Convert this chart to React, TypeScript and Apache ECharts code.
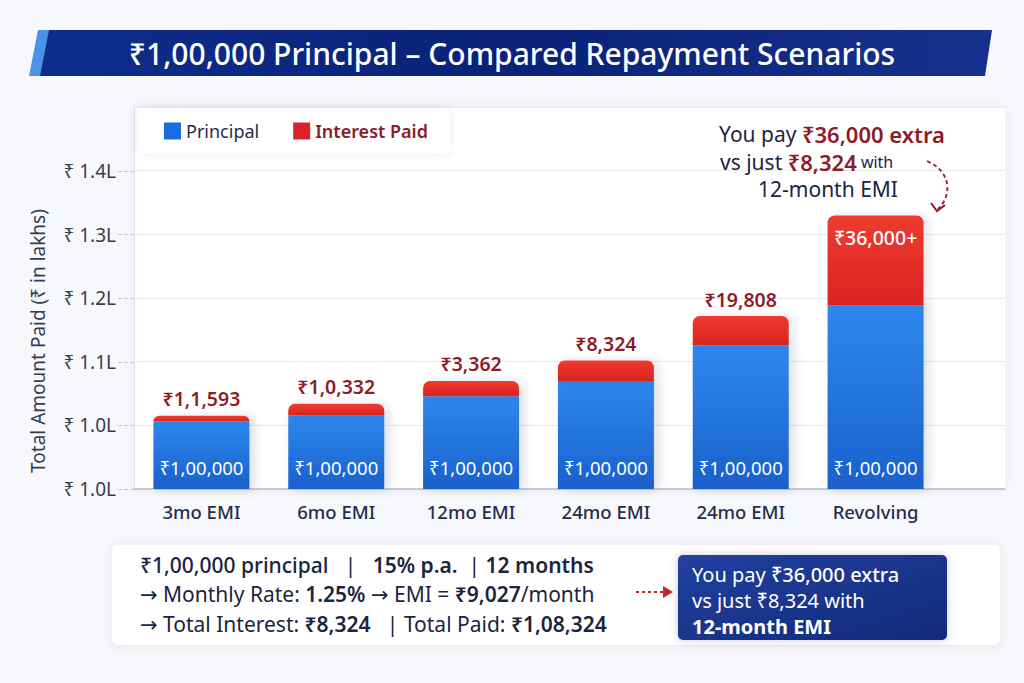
import { useEffect, useRef } from 'react';
import * as echarts from 'echarts';
import type { EChartsOption } from 'echarts';

const FONT = '"Noto Sans", "DejaVu Sans", sans-serif';

// heights drawn on the picture's axis (in ₹ thousands, axis starts at 90)
const categories = ['3mo EMI', '6mo EMI', '12mo EMI', '24mo EMI', '24mo EMI', 'Revolving'];
const principalDrawn = [100.6, 101.6, 104.6, 107.0, 112.6, 118.9];
const interestDrawn = [0.9, 1.8, 2.4, 3.2, 4.6, 14.1];
const principalLabels = ['₹1,00,000', '₹1,00,000', '₹1,00,000', '₹1,00,000', '₹1,00,000', '₹1,00,000'];
const interestLabels = ['₹1,1,593', '₹1,0,332', '₹3,362', '₹8,324', '₹19,808', '₹36,000+'];
const yTickLabels = ['₹ 1.0L', '₹ 1.0L', '₹ 1.1L', '₹ 1.2L', '₹ 1.3L', '₹ 1.4L'];

const NAVY = '#1c2440';
const DARK_RED = '#8e1b27';

function vGrad(top: string, bottom: string) {
  return new echarts.graphic.LinearGradient(0, 0, 0, 1, [
    { offset: 0, color: top },
    { offset: 1, color: bottom },
  ]);
}

function buildOption(): EChartsOption {
  const bodyRich = {
    n: { fontSize: 21, fill: NAVY, fontFamily: FONT },
    m: { fontSize: 21, fill: NAVY, fontFamily: FONT, fontWeight: 500 },
    b: { fontSize: 21, fill: NAVY, fontFamily: FONT, fontWeight: 600 },
  };
  const boxRich = {
    n: { fontSize: 20, lineHeight: 22, fill: '#fff', fontFamily: FONT },
    m: { fontSize: 20, lineHeight: 22, fill: '#fff', fontFamily: FONT, fontWeight: 500 },
    b: { fontSize: 20, lineHeight: 22, fill: '#fff', fontFamily: FONT, fontWeight: 700 },
  };
  const noteRich = {
    n: { fontSize: 21, fill: NAVY, fontFamily: FONT },
    r: { fontSize: 22, fill: DARK_RED, fontFamily: FONT, fontWeight: 600 },
    s: { fontSize: 16, fill: NAVY, fontFamily: FONT },
  };

  return {
    animation: false,
    backgroundColor: '#f7f8fb',
    textStyle: { fontFamily: FONT },
    legend: {
      left: 138,
      top: 108,
      padding: [14, 22, 14, 26],
      itemWidth: 17,
      itemHeight: 17,
      itemGap: 34,
      icon: 'rect',
      backgroundColor: '#fff',
      borderRadius: 6,
      shadowBlur: 10,
      shadowColor: 'rgba(20,30,70,0.08)',
      textStyle: { fontSize: 18, fontFamily: FONT },
      data: [
        { name: 'Principal', itemStyle: { color: '#1a6ddf' }, textStyle: { color: '#262d4a' } },
        { name: 'Interest Paid', itemStyle: { color: '#d8232a' }, textStyle: { color: DARK_RED, fontWeight: 600 } },
      ],
    },
    grid: [
      { left: 134, right: 81, top: 171, bottom: 194 },
      {
        left: 134, right: 19, top: 107, bottom: 194, show: true,
        backgroundColor: '#fff', borderWidth: 0,
        shadowBlur: 14, shadowColor: 'rgba(20,30,70,0.06)',
      },
    ],
    xAxis: [
      {
        type: 'category',
        gridIndex: 0,
        data: categories,
        axisLine: { show: false },
        axisTick: { show: false },
        axisLabel: { color: '#262d4a', fontSize: 18.5, fontWeight: 500, margin: 13, fontFamily: FONT },
      },
      {
        type: 'value',
        gridIndex: 1,
        min: 0,
        max: 1,
        axisLine: { show: true, lineStyle: { color: '#b3bbcc', width: 1.5 } },
        axisTick: { show: false },
        axisLabel: { show: false },
        splitLine: { show: false },
      },
    ],
    yAxis: [
      {
        type: 'value',
        gridIndex: 0,
        min: 90,
        max: 140,
        interval: 10,
        axisLine: { show: false },
        axisTick: { show: true, length: 16, lineStyle: { color: '#c4c9d5', type: 'dashed' } },
        splitLine: { show: false },
        axisLabel: {
          margin: 18,
          color: '#363d52',
          fontSize: 19,
          fontFamily: FONT,
          formatter: (v: number) => yTickLabels[Math.round((v - 90) / 10)] ?? '',
        },
      },
      {
        type: 'value',
        gridIndex: 1,
        min: 90,
        max: 150,
        interval: 10,
        axisLine: { show: true, lineStyle: { color: '#dde1ea' } },
        axisTick: { show: false },
        axisLabel: { show: false },
        splitLine: { show: true, lineStyle: { color: '#e7e9ef' } },
      },
    ],
    series: [
      {
        name: 'Principal',
        type: 'bar',
        stack: 'total',
        barWidth: 96,
        xAxisIndex: 0,
        yAxisIndex: 0,
        itemStyle: {
          color: vGrad('#2d88ee', '#1a60cc'),
          shadowBlur: 10,
          shadowOffsetX: 5,
          shadowColor: 'rgba(20,40,100,0.15)',
        },
        label: {
          show: true,
          position: 'insideBottom',
          distance: 12,
          color: '#fff',
          fontSize: 18.5,
          fontFamily: FONT,
          formatter: (p: any) => principalLabels[p.dataIndex],
        },
        data: principalDrawn,
      },
      {
        name: 'Interest Paid',
        type: 'bar',
        stack: 'total',
        barWidth: 96,
        xAxisIndex: 0,
        yAxisIndex: 0,
        itemStyle: {
          color: vGrad('#ef3b30', '#d9241f'),
          borderRadius: [7, 7, 0, 0],
          shadowBlur: 10,
          shadowOffsetX: 5,
          shadowColor: 'rgba(20,40,100,0.12)',
        },
        label: {
          show: true,
          position: 'top',
          distance: 7,
          color: DARK_RED,
          fontSize: 19.5,
          fontWeight: 600,
          fontFamily: FONT,
          formatter: (p: any) => interestLabels[p.dataIndex],
        },
        data: interestDrawn.map((v, i) =>
          i === interestDrawn.length - 1
            ? { value: v, label: { position: 'insideTop', distance: 12, color: '#fff', fontWeight: 500 } }
            : v,
        ),
      },
    ],
    graphic: [
      // title banner
      {
        type: 'polygon',
        shape: { points: [[48, 30], [992, 30], [985, 76], [39, 76]] },
        style: {
          fill: new echarts.graphic.LinearGradient(0, 0, 1, 0, [
            { offset: 0, color: '#0e2d8c' },
            { offset: 0.5, color: '#0a2278' },
            { offset: 1, color: '#16318e' },
          ]),
        },
        z: 10,
      },
      {
        type: 'polygon',
        shape: { points: [[38, 30], [49, 30], [40, 76], [29, 76]] },
        style: { fill: '#4a93e6' },
        z: 10,
      },
      {
        type: 'text',
        x: 512,
        y: 53,
        z: 11,
        style: {
          text: '₹1,00,000 Principal – Compared Repayment Scenarios',
          fill: '#fff',
          font: `500 30px ${FONT}`,
          align: 'center',
          verticalAlign: 'middle',
        },
      },
      // y axis name
      {
        type: 'text',
        x: 38,
        y: 341,
        rotation: Math.PI / 2,
        z: 10,
        style: {
          text: 'Total Amount Paid (₹ in lakhs)',
          fill: '#363d52',
          font: `19px ${FONT}`,
          align: 'center',
          verticalAlign: 'middle',
        },
      },
      // top right note
      {
        type: 'text',
        x: 832,
        y: 134,
        z: 10,
        style: {
          text: '{n|You pay }{r|₹36,000 extra}',
          rich: noteRich,
          align: 'center',
          verticalAlign: 'middle',
        },
      },
      {
        type: 'text',
        x: 720,
        y: 162,
        z: 10,
        style: {
          text: '{n|vs just }{r|₹8,324}{s| with}',
          rich: noteRich,
          align: 'left',
          verticalAlign: 'middle',
        },
      },
      {
        type: 'text',
        x: 828,
        y: 189,
        z: 10,
        style: {
          text: '{n|12-month EMI}',
          rich: noteRich,
          align: 'center',
          verticalAlign: 'middle',
        },
      },
      {
        type: 'bezierCurve',
        z: 10,
        shape: { x1: 927, y1: 161, cpx1: 952, cpy1: 172, cpx2: 952, cpy2: 196, x2: 938, y2: 209 },
        style: { stroke: DARK_RED, lineWidth: 1.8, lineDash: [4, 3], fill: 'none' },
      },
      {
        type: 'polyline',
        z: 10,
        shape: { points: [[931, 203], [937, 211], [945, 205]] },
        style: { stroke: DARK_RED, lineWidth: 2, fill: 'none' },
      },
      // bottom summary box
      {
        type: 'rect',
        z: 5,
        shape: { x: 112, y: 545, width: 888, height: 100, r: 6 },
        style: { fill: '#fff', shadowBlur: 12, shadowColor: 'rgba(20,30,70,0.08)' },
      },
      {
        type: 'text',
        x: 140,
        y: 565,
        z: 10,
        style: {
          text: '{m|₹1,00,000 principal}{n|   |   }{b|15% p.a.}{n|  | }{b|12 months}',
          rich: bodyRich,
          verticalAlign: 'middle',
        },
      },
      {
        type: 'text',
        x: 140,
        y: 594,
        z: 10,
        style: {
          text: '{n|→ Monthly Rate: }{b|1.25%}{n| → EMI = }{b|₹9,027}{n|/month}',
          rich: bodyRich,
          verticalAlign: 'middle',
        },
      },
      {
        type: 'text',
        x: 140,
        y: 624,
        z: 10,
        style: {
          text: '{n|→ Total Interest: }{b|₹8,324}{n|   | Total Paid: }{b|₹1,08,324}',
          rich: bodyRich,
          verticalAlign: 'middle',
        },
      },
      {
        type: 'line',
        z: 10,
        shape: { x1: 636, y1: 592, x2: 665, y2: 592 },
        style: { stroke: '#c62828', lineWidth: 2, lineDash: [3, 3] },
      },
      {
        type: 'polygon',
        z: 10,
        shape: { points: [[663, 586], [673, 592], [663, 598]] },
        style: { fill: '#c62828' },
      },
      {
        type: 'rect',
        z: 10,
        shape: { x: 678, y: 555, width: 269, height: 85, r: 5 },
        style: {
          fill: new echarts.graphic.LinearGradient(0, 0, 1, 1, [
            { offset: 0, color: '#21409f' },
            { offset: 1, color: '#132a7a' },
          ]),
          shadowBlur: 8,
          shadowColor: 'rgba(10,20,80,0.2)',
        },
      },
      {
        type: 'text',
        x: 692,
        y: 574,
        z: 11,
        style: { text: '{n|You pay }{m|₹36,000 extra}', rich: boxRich, verticalAlign: 'middle' },
      },
      {
        type: 'text',
        x: 692,
        y: 600,
        z: 11,
        style: { text: '{n|vs just ₹8,324 with}', rich: boxRich, verticalAlign: 'middle' },
      },
      {
        type: 'text',
        x: 692,
        y: 626,
        z: 11,
        style: { text: '{b|12-month EMI}', rich: boxRich, verticalAlign: 'middle' },
      },
    ],
  };
}

export default function App() {
  const ref = useRef<HTMLDivElement>(null);

  useEffect(() => {
    if (!ref.current) return;
    const chart = echarts.init(ref.current, undefined, { renderer: 'svg' });
    chart.setOption(buildOption());
    return () => chart.dispose();
  }, []);

  return (
    <div
      ref={ref}
      style={{ position: 'absolute', left: 0, top: 0, width: 1024, height: 683 }}
    />
  );
}
